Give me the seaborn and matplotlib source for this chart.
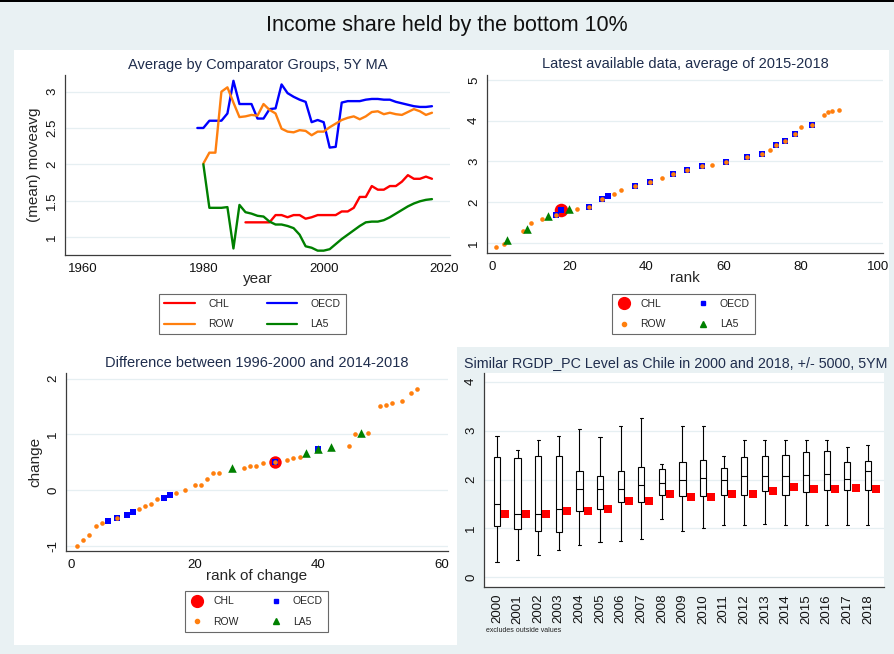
"""
Income share held by the bottom 10% - four panel comparison chart.
"""

import matplotlib
matplotlib.use("Agg")
import matplotlib.pyplot as plt
from matplotlib.lines import Line2D
from matplotlib.patches import Rectangle
from matplotlib.ticker import FuncFormatter
import numpy as np
import pandas as pd
import seaborn as sns

# ---- panel 1: 5Y moving average by comparator group ----
oecd_years = list(range(1979, 2019))
oecd_vals = [2.50, 2.50, 2.60, 2.60, 2.60, 2.70, 3.15, 2.83, 2.83, 2.83,
             2.63, 2.63, 2.76, 2.77, 3.10, 2.98, 2.93, 2.89, 2.86, 2.58,
             2.61, 2.58, 2.23, 2.24, 2.85, 2.87, 2.87, 2.87, 2.89, 2.90,
             2.90, 2.89, 2.89, 2.86, 2.84, 2.82, 2.80, 2.79, 2.79, 2.80]
row_years = list(range(1980, 2019))
row_vals = [2.01, 2.16, 2.16, 3.00, 3.06, 2.85, 2.65, 2.66, 2.68, 2.67,
            2.83, 2.75, 2.70, 2.49, 2.45, 2.44, 2.47, 2.46, 2.40, 2.45,
            2.45, 2.51, 2.56, 2.61, 2.64, 2.66, 2.62, 2.66, 2.72, 2.73,
            2.69, 2.71, 2.69, 2.68, 2.72, 2.76, 2.73, 2.68, 2.71]
chl_years = list(range(1987, 2019))
chl_vals = [1.20, 1.20, 1.20, 1.20, 1.20,
            1.30, 1.30, 1.27, 1.30, 1.30, 1.25, 1.27, 1.30, 1.30,
            1.30, 1.30, 1.35, 1.35, 1.40, 1.55, 1.55, 1.70, 1.65,
            1.65, 1.70, 1.70, 1.76, 1.85, 1.80, 1.80, 1.83, 1.80]
la5_years = list(range(1980, 2019))
la5_vals = [2.00, 1.40, 1.40, 1.40, 1.41, 0.84, 1.44, 1.34, 1.32, 1.29,
            1.28, 1.21, 1.17, 1.17, 1.15, 1.12, 1.03, 0.87, 0.85, 0.81,
            0.81, 0.83, 0.90, 0.97, 1.03, 1.09, 1.15, 1.20, 1.21, 1.21,
            1.23, 1.27, 1.32, 1.37, 1.42, 1.46, 1.49, 1.51, 1.52]

# ---- panel 2: latest available data (rank vs level) ----
lat_row_rank = [1, 3, 8, 10, 13, 16.5, 22, 25, 28.5, 31.5, 33.5, 37, 41, 44, 47, 50.5,
                54.5, 57, 60.5, 66, 70, 72, 73.5, 76, 78.5, 80, 83, 86, 87, 88, 90]
lat_row_vals = [0.89, 0.98, 1.29, 1.49, 1.58, 1.69, 1.84, 1.89, 2.08, 2.19, 2.29, 2.39,
                2.49, 2.59, 2.69, 2.79, 2.89, 2.92, 2.98, 3.10, 3.19, 3.29, 3.39, 3.49,
                3.68, 3.85, 3.89, 4.15, 4.21, 4.24, 4.25]
lat_oecd_rank = [16.5, 18, 25, 28.5, 30, 37, 41, 47, 50.5, 54.5, 60.5, 66, 70, 73.5, 76, 78.5, 83]
lat_oecd_vals = [1.69, 1.80, 1.89, 2.08, 2.14, 2.39, 2.49, 2.69, 2.79, 2.89, 2.98, 3.10,
                 3.19, 3.39, 3.49, 3.68, 3.89]
lat_la5_rank = [4, 9, 14.5, 20]
lat_la5_vals = [1.07, 1.34, 1.66, 1.82]
lat_chl_rank = [18]
lat_chl_vals = [1.80]

# ---- panel 3: change between 1996-2000 and 2014-2018 ----
chg_row_rank = [1, 2, 3, 4, 5, 7.5, 11, 12, 13, 14, 17, 18.5, 20, 21, 22, 23, 24, 28, 29, 30,
                31, 33, 35, 36, 37, 45, 46, 48, 50, 51, 52, 53.5, 55, 56]
chg_row_vals = [-1.00, -0.90, -0.80, -0.65, -0.59, -0.50, -0.34, -0.29, -0.24, -0.15,
                -0.05, 0.00, 0.10, 0.10, 0.20, 0.30, 0.30, 0.40, 0.43, 0.44,
                0.48, 0.50, 0.54, 0.58, 0.60, 0.80, 1.00, 1.03, 1.50, 1.53,
                1.57, 1.60, 1.75, 1.82]
chg_oecd_rank = [6, 7.5, 9, 10, 15, 16, 33, 40]
chg_oecd_vals = [-0.55, -0.50, -0.44, -0.39, -0.14, -0.09, 0.50, 0.74]
chg_la5_rank = [26, 38, 40, 42, 47]
chg_la5_vals = [0.40, 0.67, 0.74, 0.78, 1.02]
chg_chl_rank = [33]
chg_chl_vals = [0.50]

# ---- panel 4: similar RGDP_PC peers, box summary per year ----
box_years = list(range(2000, 2019))
box_min = [0.32, 0.36, 0.45, 0.56, 0.66, 0.72, 0.75, 0.79, 1.20, 0.94,
           1.00, 1.07, 1.07, 1.09, 1.06, 1.06, 1.06, 1.07, 1.07]
box_q1 = [1.04, 0.98, 0.94, 0.92, 1.35, 1.39, 1.54, 1.54, 1.69, 1.66,
          1.66, 1.69, 1.69, 1.76, 1.69, 1.75, 1.78, 1.79, 1.79]
box_med = [1.49, 1.30, 1.30, 1.39, 1.81, 1.81, 1.81, 1.89, 1.93, 1.99,
           2.04, 1.98, 2.08, 2.08, 2.08, 2.09, 2.11, 2.02, 2.17]
box_q3 = [2.46, 2.44, 2.49, 2.49, 2.18, 2.08, 2.18, 2.25, 2.22, 2.36,
          2.40, 2.23, 2.46, 2.49, 2.50, 2.56, 2.58, 2.36, 2.38]
box_max = [2.89, 2.60, 2.80, 2.89, 3.03, 2.87, 3.10, 3.26, 2.32, 3.10,
           3.10, 2.48, 2.80, 2.80, 2.80, 2.80, 2.80, 2.66, 2.70]

W, H = 894, 654
BG = "#E9F1F3"
NAVY = "#1f2d4d"
AXC = "#3c3c3c"
C_CHL, C_OECD, C_ROW, C_LA5 = "#ff0000", "#0000ff", "#ff7f0e", "#008000"

sns.set_style("white")
plt.rcParams["font.family"] = ["Liberation Sans", "DejaVu Sans"]


def px_axes(fig, left, top, right, bottom):
    """Add axes from pixel box (origin top-left)."""
    return fig.add_axes([left / W, 1 - bottom / H, (right - left) / W, (bottom - top) / H])


def style_axes(ax, yticks, label_size=9.5):
    for side in ("top", "right"):
        ax.spines[side].set_visible(False)
    for side in ("left", "bottom"):
        ax.spines[side].set_color(AXC)
        ax.spines[side].set_linewidth(0.9)
    ax.tick_params(direction="out", length=4, width=0.8, color=AXC, pad=1.5,
                   labelsize=label_size, labelcolor="#111111")
    ax.tick_params(axis="y", pad=1.0)
    ax.set_yticks(yticks)
    ax.yaxis.set_major_formatter(FuncFormatter(lambda v, p: f"{v:g}"))
    ax.tick_params(axis="y", labelrotation=90)
    for lab in ax.get_yticklabels():
        lab.set_verticalalignment("center")
    for y in yticks:
        ax.axhline(y, color="#e6eff2", lw=0.9, zorder=0)


def marker_legend(fig, center, fontsize=7.5):
    handles = [
        Line2D([], [], ls="none", marker="o", ms=8.5, color=C_CHL),
        Line2D([], [], ls="none", marker="o", ms=3, color=C_ROW),
        Line2D([], [], ls="none", marker="s", ms=3, color=C_OECD),
        Line2D([], [], ls="none", marker="^", ms=5, color=C_LA5),
    ]
    labels = ["CHL", "ROW", "OECD", "LA5"]
    leg = fig.legend(handles, labels, loc="center",
                     bbox_to_anchor=(center[0] / W, 1 - center[1] / H),
                     ncol=2, fontsize=fontsize, frameon=True, fancybox=False,
                     handlelength=1.2, handletextpad=1.0, columnspacing=3.0,
                     labelspacing=1.0, borderpad=0.5)
    leg.get_frame().set_edgecolor("#444444")
    leg.get_frame().set_linewidth(0.8)
    return leg


def scatter_groups(ax, chl, oecd, row, la5, chl_size):
    sns.scatterplot(x=chl[0], y=chl[1], ax=ax, color=C_CHL, marker="o", s=chl_size,
                    linewidth=0, zorder=3, legend=False)
    sns.scatterplot(x=oecd[0], y=oecd[1], ax=ax, color=C_OECD, marker="s", s=22,
                    linewidth=0, zorder=4, legend=False)
    sns.scatterplot(x=row[0], y=row[1], ax=ax, color=C_ROW, marker="o", s=11,
                    linewidth=0, zorder=5, legend=False)
    sns.scatterplot(x=la5[0], y=la5[1], ax=ax, color=C_LA5, marker="^", s=38,
                    linewidth=0, zorder=6, legend=False)


fig = plt.figure(figsize=(W / 100, H / 100), dpi=100)
fig.patch.set_facecolor(BG)
fig.add_artist(Rectangle((14 / W, 1 - 645 / H), (889 - 14) / W, (645 - 50) / H,
                         transform=fig.transFigure, facecolor="white",
                         edgecolor="none", zorder=-5))
fig.add_artist(Rectangle((457 / W, 0), 1 - 457 / W, 1 - 347 / H,
                         transform=fig.transFigure, facecolor=BG,
                         edgecolor="none", zorder=-4))
fig.add_artist(Rectangle((0, 1 - 2 / H), 1, 2 / H, transform=fig.transFigure,
                         facecolor="black", edgecolor="none", zorder=-3))
fig.text(447 / W, 1 - 26 / H, "Income share held by the bottom 10%",
         ha="center", va="center", fontsize=15.5, color="#111111")

# Panel 1 - lines
ax1 = px_axes(fig, 65, 75, 450, 255)
for xs, ys, col in [(chl_years, chl_vals, C_CHL), (oecd_years, oecd_vals, C_OECD),
                    (row_years, row_vals, C_ROW), (la5_years, la5_vals, C_LA5)]:
    sns.lineplot(x=xs, y=ys, ax=ax1, color=col, linewidth=1.7, errorbar=None, legend=False)
ax1.set_xlim(1957, 2021)
ax1.set_ylim(0.75, 3.23)
ax1.set_xticks([1960, 1980, 2000, 2020])
style_axes(ax1, [1, 1.5, 2, 2.5, 3])
ax1.set_title("Average by Comparator Groups, 5Y MA", fontsize=10.5, color=NAVY,
              y=1 + 10 / 180, va="center", pad=0)
ax1.set_xlabel("year", fontsize=11)
ax1.xaxis.set_label_coords(0.5, -0.095)
ax1.set_ylabel("(mean) moveavg", fontsize=11)
ax1.yaxis.set_label_coords(-0.062, 0.5)

line_handles = [Line2D([], [], color=c, lw=1.6) for c in (C_CHL, C_ROW, C_OECD, C_LA5)]
leg1 = fig.legend(line_handles, ["CHL", "ROW", "OECD", "LA5"], loc="center",
                  bbox_to_anchor=(252.5 / W, 1 - 314 / H), ncol=2, fontsize=7.5,
                  frameon=True, fancybox=False, handlelength=2.9, handletextpad=1.3,
                  columnspacing=3.2, labelspacing=1.0, borderpad=0.5)
leg1.get_frame().set_edgecolor("#444444")
leg1.get_frame().set_linewidth(0.8)

# Panel 2 - latest available data
ax2 = px_axes(fig, 487, 75, 883, 253)
scatter_groups(ax2, (lat_chl_rank, lat_chl_vals), (lat_oecd_rank, lat_oecd_vals),
               (lat_row_rank, lat_row_vals), (lat_la5_rank, lat_la5_vals), chl_size=95)
ax2.set_xlim(-1.3, 101.3)
ax2.set_ylim(0.75, 5.12)
ax2.set_xticks([0, 20, 40, 60, 80, 100])
style_axes(ax2, [1, 2, 3, 4, 5])
ax2.set_title("Latest available data, average of 2015-2018", fontsize=10.5, color=NAVY,
              y=1 + 11 / 178, va="center", pad=0)
ax2.set_xlabel("rank", fontsize=11)
ax2.xaxis.set_label_coords(0.5, -0.1)
ax2.set_ylabel("")
marker_legend(fig, (683.5, 314))

# Panel 3 - change
ax3 = px_axes(fig, 66, 373, 448, 551)
scatter_groups(ax3, (chg_chl_rank, chg_chl_vals), (chg_oecd_rank, chg_oecd_vals),
               (chg_row_rank, chg_row_vals), (chg_la5_rank, chg_la5_vals), chl_size=80)
ax3.set_xlim(-0.8, 61)
ax3.set_ylim(-1.09, 2.1)
ax3.set_xticks([0, 20, 40, 60])
style_axes(ax3, [-1, 0, 1, 2])
ax3.set_title("Difference between 1996-2000 and 2014-2018", fontsize=10.5, color=NAVY,
              y=1 + 10 / 178, va="center", pad=0)
ax3.set_xlabel("rank of change", fontsize=11)
ax3.xaxis.set_label_coords(0.5, -0.1)
ax3.set_ylabel("change", fontsize=11)
ax3.yaxis.set_label_coords(-0.062, 0.5)
marker_legend(fig, (256.5, 611.5))

# Panel 4 - box plots
box_df = pd.DataFrame({
    "year": np.repeat(box_years, 5),
    "value": np.column_stack([box_min, box_q1, box_med, box_q3, box_max]).ravel(),
})
ax4 = px_axes(fig, 484, 373, 884, 587)
ax4.set_facecolor("white")
sns.boxplot(data=box_df, x="year", y="value", ax=ax4, native_scale=True, whis=(0, 100),
            width=0.3, color="white", linecolor="black", linewidth=0.8,
            showfliers=False, zorder=3)
chl_idx = chl_years.index(2000)
sns.scatterplot(x=np.array(chl_years[chl_idx:]) + 0.4, y=chl_vals[chl_idx:], ax=ax4,
                color=C_CHL, marker="s", s=30, linewidth=0, zorder=4, legend=False)
ax4.set_xlim(1999.37, 2018.78)
ax4.set_ylim(-0.2, 4.18)
ax4.set_xticks(box_years)
ax4.set_xticklabels([str(y) for y in box_years])
style_axes(ax4, [0, 1, 2, 3, 4], label_size=9.5)
ax4.tick_params(axis="x", labelrotation=90, pad=1)
ax4.set_xlabel("")
ax4.set_ylabel("")
ax4.text((464 - 484) / 400, 1 + 10 / 214,
         "Similar RGDP_PC Level as Chile in 2000 and 2018, +/- 5000, 5YM",
         transform=ax4.transAxes, ha="left", va="center", fontsize=10.3,
         color=NAVY, clip_on=False)
fig.text(486 / W, 1 - 631 / H, "excludes outside values", fontsize=5,
         color="#222222", ha="left", va="center")

fig.savefig("out.png", dpi=100, facecolor=fig.get_facecolor())
plt.close(fig)
